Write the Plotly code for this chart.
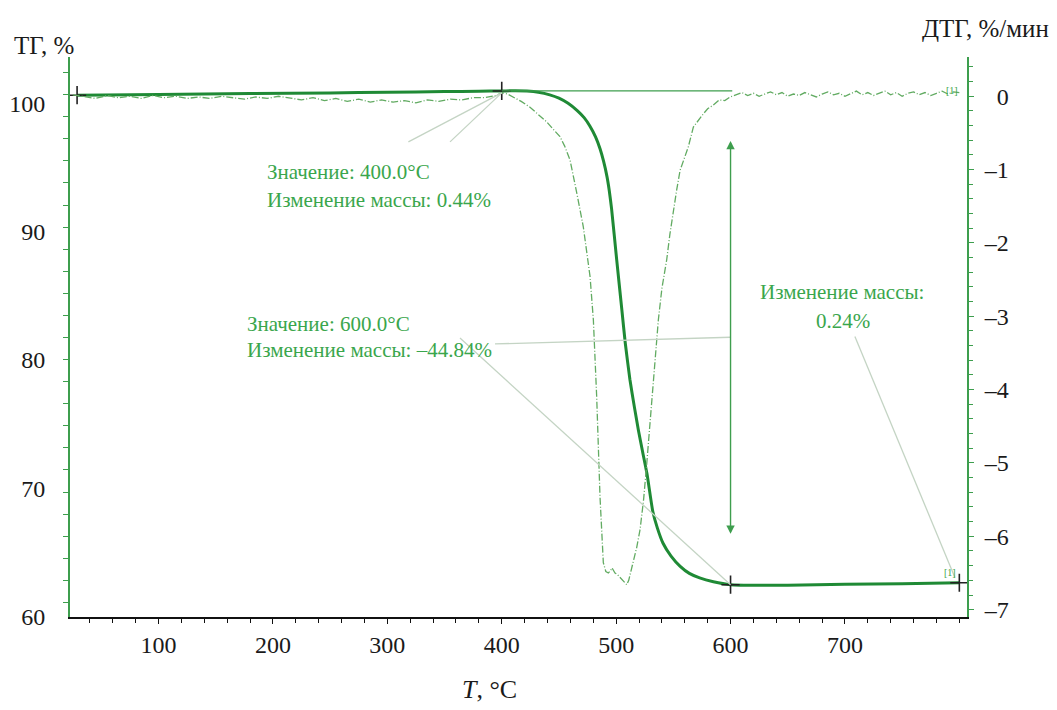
import numpy as np
import plotly.graph_objects as go

# ---------------- data ----------------
tg_T = [28.8, 100, 180, 250, 300, 350, 380, 400, 412, 422, 432, 442, 450, 458, 466, 472,
        477, 482, 486, 489, 492, 494, 496, 500.5, 505, 508, 512, 516, 519.5, 523, 527,
        532, 536, 541, 548, 556, 564, 573, 585, 600, 625, 650, 700, 750, 800]
tg_V = [100.65, 100.70, 100.78, 100.83, 100.88, 100.93, 100.96, 100.98, 101.0, 100.97,
        100.88, 100.68, 100.42, 100.02, 99.45, 98.9, 98.25, 97.4, 96.45, 95.5, 94.3, 93.2,
        91.8, 87.8, 83.9, 81.3, 78.5, 76.3, 74.5, 72.9, 71.1, 68.2, 66.9, 65.7, 64.7,
        63.9, 63.35, 63.0, 62.7, 62.47, 62.42, 62.43, 62.5, 62.55, 62.62]

dtg_T = [25, 35, 45, 55, 65, 75, 85, 95, 105, 115, 125, 135, 145, 155, 165, 175, 185,
         195, 205, 215, 225, 235, 245, 255, 265, 275, 285, 295, 305, 315, 325, 335, 345,
         355, 365, 375, 385, 395, 400, 405, 410, 417, 424.7, 432, 439.3, 445, 450.9, 455,
         459.7, 465.6, 471.3, 477.2, 480.1, 483, 485.9, 488.8, 491, 493.2, 495, 496.4,
         498, 499, 501, 503.4, 506, 508, 509.3, 511, 512.5, 515.1, 518, 520.9, 524,
         526.8, 529.5, 532.5, 536.9, 540, 544.2, 547, 550, 553, 555.9, 560, 563.1,
         567.5, 572, 576.2, 580, 585, 590, 595, 599.6, 605, 610, 615, 620, 625, 630,
         635, 640, 645, 650, 655, 660, 665, 670, 675, 680, 685, 690, 695, 700, 705, 710,
         715, 720, 725, 730, 735, 740, 745, 750, 755, 760, 765, 770, 775, 780, 785, 790,
         795, 800]
dtg_V = [0.02, 0.00, -0.03, 0.01, -0.02, 0.00, -0.03, 0.01, -0.02, 0.00, -0.03, -0.01,
         -0.03, 0.00, -0.02, -0.04, -0.01, -0.03, 0.00, -0.03, -0.05, -0.02, -0.06, -0.03,
         -0.07, -0.04, -0.08, -0.05, -0.08, -0.06, -0.09, -0.05, -0.07, -0.04, -0.05,
         -0.02, -0.02, 0.01, 0.05, 0.03, -0.01, -0.07, -0.15, -0.25, -0.35, -0.45, -0.55,
         -0.68, -0.87, -1.32, -1.78, -2.46, -3.05, -4.1, -5.46, -6.36, -6.48, -6.50,
         -6.47, -6.43, -6.47, -6.50, -6.52, -6.56, -6.60, -6.64, -6.66, -6.60, -6.50,
         -6.36, -6.15, -5.91, -5.50, -5.00, -4.45, -3.87, -3.05, -2.62, -2.23, -1.88,
         -1.55, -1.27, -1.01, -0.82, -0.69, -0.42, -0.32, -0.24, -0.17, -0.12, -0.05,
         -0.06, -0.01, 0.02, 0.05, 0.01, 0.04, 0.00, 0.03, 0.06, 0.02, 0.05, 0.00, 0.03,
         0.01, 0.05, 0.02, -0.01, 0.03, 0.06, 0.02, 0.04, 0.00, 0.03, 0.07, 0.02, 0.05,
         0.01, 0.04, 0.07, 0.02, 0.05, 0.00, 0.04, 0.06, 0.02, 0.05, 0.01, 0.04, 0.07,
         0.03, 0.06, 0.05]

marker_T = [28.8, 400, 600, 800]
x_ticks = [100, 200, 300, 400, 500, 600, 700]
tg_ticks = [60, 70, 80, 90, 100]
dtg_ticks = [-7, -6, -5, -4, -3, -2, -1, 0]
dtg_ticktext = ["–7", "–6", "–5", "–4", "–3", "–2", "–1", "\u20070"]

# ---------------- styles ----------------
SERIF = "Liberation Serif"
DARK_GREEN = "#1f8a35"
LIGHT_GREEN = "#62ab62"
TEXT_GREEN = "#3aa64c"
AXIS_GREEN = "#3d9e4e"
LEADER = "#c4d4c4"

marker_V = list(np.interp(marker_T, tg_T, tg_V))
tg400 = marker_V[1]
tg600 = marker_V[2]

fig = go.Figure()

fig.add_trace(go.Scatter(x=dtg_T, y=dtg_V, yaxis="y2", mode="lines",
                         line=dict(color=LIGHT_GREEN, width=1.3, dash="7px,2px,1px,2px"),
                         showlegend=False, hoverinfo="skip"))
fig.add_trace(go.Scatter(x=tg_T, y=tg_V, mode="lines",
                         line=dict(color=DARK_GREEN, width=3, shape="spline", smoothing=0.5),
                         showlegend=False))
fig.add_trace(go.Scatter(x=marker_T, y=marker_V, mode="markers",
                         marker=dict(symbol="cross-thin", size=13,
                                     line=dict(color="#222222", width=1.6)),
                         showlegend=False))

shapes = []
shapes.append(dict(type="line", xref="x", yref="y", x0=400, y0=tg400, x1=601.5, y1=tg400,
                   line=dict(color="#3e9e4e", width=1.3)))
for x0, y0, x1, y1 in [(318.4, 97.01, 400, tg400 - 0.15), (354.8, 97.01, 400, tg400 - 0.15),
                       (394.1, 81.25, 600, 81.77), (363.5, 81.71, 600, tg600),
                       (708.7, 81.82, 796.2, 63.02)]:
    shapes.append(dict(type="line", xref="x", yref="y", x0=x0, y0=y0, x1=x1, y1=y1,
                       line=dict(color=LEADER, width=1.3)))

annotations = []
annotations.append(dict(x=600, y=66.44, ax=600, ay=97.2, xref="x", yref="y",
                        axref="x", ayref="y", showarrow=True, arrowhead=2, arrowsize=1.2,
                        arrowwidth=1.4, arrowcolor="#3e9e4e", arrowside="end+start", text=""))

def txt(x, y, s, xanchor="left", size=21, color=TEXT_GREEN, xref="x", yref="y"):
    annotations.append(dict(x=x, y=y, xref=xref, yref=yref, text=s, showarrow=False,
                            xanchor=xanchor, yanchor="middle",
                            font=dict(family=SERIF, size=size, color=color)))

txt(193.0, 94.67, "Значение: 400.0°C")
txt(193.0, 92.47, "Изменение массы: 0.44%")
txt(175.6, 82.84, "Значение: 600.0°C")
txt(175.6, 80.78, "Изменение массы: –44.84%")
txt(624.3, 85.30, "Изменение массы:")
txt(697.9, 83.0, "0.24%", xanchor="center")
txt(793.6, 101.05, "[1]", xanchor="center", size=10)
txt(791.9, 63.43, "[1]", xanchor="center", size=10)

txt(-0.0647, 1.0209, "ТГ, %", size=25, color="#1a1a1a", xref="paper", yref="paper")
txt(0.9476, 1.0512, "ДТГ, %/мин", size=25, color="#1a1a1a", xref="paper", yref="paper")
txt(0.468, -0.1297, "<i>T</i>, °C", xanchor="center", size=26, color="#1a1a1a",
    xref="paper", yref="paper")

# the page body adds an 8px offset; plot area is kept at page pixels 70..967 x 57..617
fig.update_layout(
    width=1049, height=702,
    margin=dict(l=62, r=90, t=49, b=93, autoexpand=False),
    paper_bgcolor="white", plot_bgcolor="white",
    showlegend=False,
    shapes=shapes, annotations=annotations,
    xaxis=dict(range=[22.6, 806.7], tickmode="array", tickvals=x_ticks, automargin=False,
               showgrid=False, zeroline=False, showline=True, linecolor="#111111",
               linewidth=2, ticks="outside", ticklen=5, tickcolor="#111111",
               ticklabelstandoff=0,
               minor=dict(ticks="outside", ticklen=4, tickcolor="#111111", dtick=20,
                          tick0=0, showgrid=False),
               tickfont=dict(family=SERIF, size=24, color="#1a1a1a")),
    yaxis=dict(range=[59.95, 103.63], tickmode="array", tickvals=tg_ticks, automargin=False,
               showgrid=False, zeroline=False, showline=True, linecolor=AXIS_GREEN,
               linewidth=2, ticks="outside", ticklen=0, tickcolor=AXIS_GREEN,
               ticklabelstandoff=18,
               minor=dict(ticks="outside", ticklen=5, tickcolor=AXIS_GREEN,
                          tickmode="linear", tick0=61.09, dtick=1.722, showgrid=False),
               tickfont=dict(family=SERIF, size=24, color="#1a1a1a")),
    yaxis2=dict(range=[-7.1, 0.535], overlaying="y", side="right", tickmode="array",
                tickvals=dtg_ticks, ticktext=dtg_ticktext, automargin=False,
                showgrid=False, zeroline=False, showline=True, linecolor=AXIS_GREEN,
                linewidth=2, ticks="outside", ticklen=5, tickcolor=AXIS_GREEN,
                ticklabelstandoff=6,
                minor=dict(ticks="outside", ticklen=4, tickcolor=AXIS_GREEN,
                           tickmode="linear", tick0=0, dtick=0.2, showgrid=False),
                tickfont=dict(family=SERIF, size=24, color="#1a1a1a")),
)

fig.write_html("out.html")
